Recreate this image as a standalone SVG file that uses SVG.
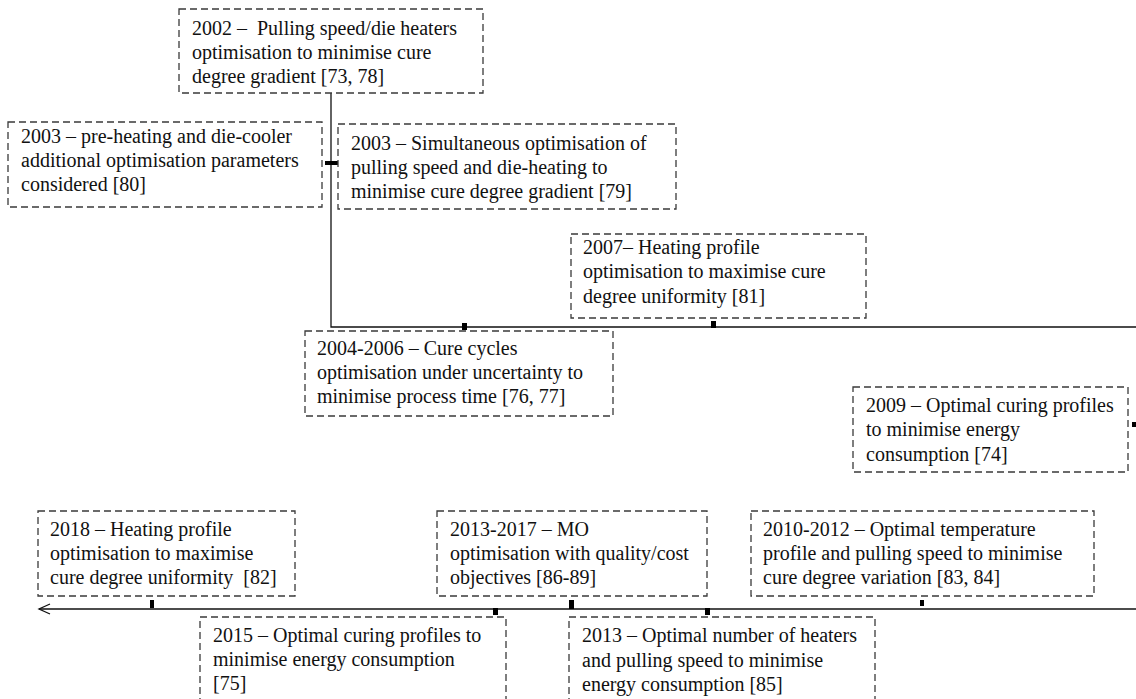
<svg xmlns="http://www.w3.org/2000/svg" width="1136" height="699" viewBox="0 0 1136 699">
<style>
.box{fill:#fff;stroke:#3a3a3a;stroke-width:1.3;stroke-dasharray:7,4}
text{font-family:'Liberation Serif','Times New Roman',serif;font-size:20px;fill:#111}
.ln{stroke:#111;stroke-width:1.3;fill:none}
.tk{fill:#000}
</style>
<defs>
<marker id="arr" markerWidth="14" markerHeight="12" refX="12" refY="6" orient="auto" markerUnits="userSpaceOnUse">
<path d="M1,1 L12,6 L1,11" fill="none" stroke="#111" stroke-width="1.3"/>
</marker>
</defs>
<rect width="1136" height="699" fill="#fff"/>
<g id="connectors">
<path class="ln" d="M331,93 V327 H1136"/>
<path class="ln" d="M1136,609 H39" marker-end="url(#arr)"/>
<rect class="tk" x="325" y="161" width="13" height="4"/>
<rect class="tk" x="462" y="323" width="5" height="7"/>
<rect class="tk" x="711" y="321" width="5" height="7"/>
<rect class="tk" x="1132" y="422" width="4" height="5"/>
<rect class="tk" x="150" y="600" width="4" height="8"/>
<rect class="tk" x="569" y="600" width="5" height="9"/>
<rect class="tk" x="920" y="600" width="4" height="6"/>
<rect class="tk" x="493" y="608" width="5" height="7"/>
<rect class="tk" x="705" y="608" width="5" height="7"/>
</g>
<g id="n2002">
<rect class="box" x="179" y="9" width="304" height="84"/>
<text x="192" y="35">2002 –&#160; Pulling speed/die heaters</text>
<text x="192" y="59">optimisation to minimise cure</text>
<text x="192" y="83">degree gradient [73, 78]</text>
</g>
<g id="n2003a">
<rect class="box" x="8" y="122" width="314" height="85"/>
<text x="21" y="143">2003 – pre-heating and die-cooler</text>
<text x="21" y="167">additional optimisation parameters</text>
<text x="21" y="191">considered [80]</text>
</g>
<g id="n2003b">
<rect class="box" x="338" y="124" width="338" height="85"/>
<text x="351" y="150">2003 – Simultaneous optimisation of</text>
<text x="351" y="174">pulling speed and die-heating to</text>
<text x="351" y="198">minimise cure degree gradient [79]</text>
</g>
<g id="n2007">
<rect class="box" x="571" y="234" width="295" height="84"/>
<text x="583" y="254">2007– Heating profile</text>
<text x="583" y="278">optimisation to maximise cure</text>
<text x="583" y="303">degree uniformity [81]</text>
</g>
<g id="n2004">
<rect class="box" x="305" y="331" width="308" height="85"/>
<text x="317" y="355">2004-2006 – Cure cycles</text>
<text x="317" y="379">optimisation under uncertainty to</text>
<text x="317" y="403">minimise process time [76, 77]</text>
</g>
<g id="n2009">
<rect class="box" x="853" y="387" width="275" height="85"/>
<text x="866" y="412">2009 – Optimal curing profiles</text>
<text x="866" y="436">to minimise energy</text>
<text x="866" y="461">consumption [74]</text>
</g>
<g id="n2018">
<rect class="box" x="38" y="511" width="257" height="85"/>
<text x="50" y="536">2018 – Heating profile</text>
<text x="50" y="560">optimisation to maximise</text>
<text x="50" y="584">cure degree uniformity&#160; [82]</text>
</g>
<g id="n2013_2017">
<rect class="box" x="437" y="511" width="270" height="85"/>
<text x="450" y="536">2013-2017 – MO</text>
<text x="450" y="560">optimisation with quality/cost</text>
<text x="450" y="584">objectives [86-89]</text>
</g>
<g id="n2010">
<rect class="box" x="751" y="511" width="343" height="85"/>
<text x="763" y="536">2010-2012 – Optimal temperature</text>
<text x="763" y="560">profile and pulling speed to minimise</text>
<text x="763" y="584">cure degree variation [83, 84]</text>
</g>
<g id="n2015">
<rect class="box" x="200" y="617" width="306" height="90"/>
<text x="213" y="642">2015 – Optimal curing profiles to</text>
<text x="213" y="666">minimise energy consumption</text>
<text x="213" y="690">[75]</text>
</g>
<g id="n2013">
<rect class="box" x="569" y="617" width="306" height="90"/>
<text x="582" y="642">2013 – Optimal number of heaters</text>
<text x="582" y="667">and pulling speed to minimise</text>
<text x="582" y="691">energy consumption [85]</text>
</g>
</svg>
